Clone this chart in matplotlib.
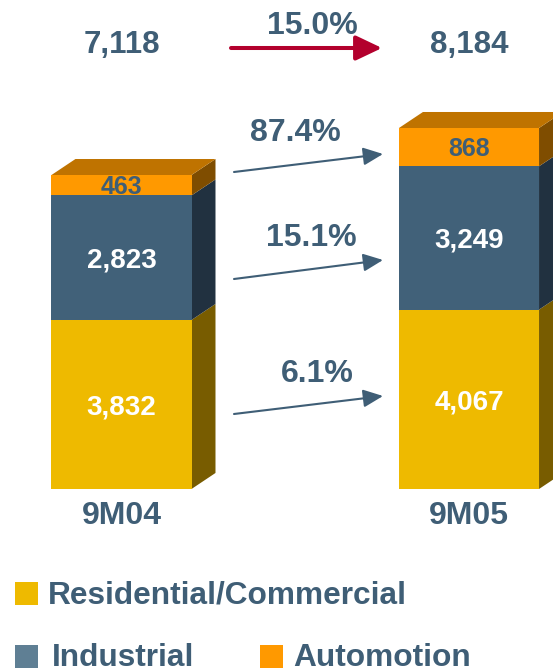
import matplotlib
matplotlib.use("Agg")
import matplotlib.pyplot as plt
from matplotlib.patches import Polygon, Rectangle, FancyArrowPatch, ArrowStyle
from matplotlib.transforms import blended_transform_factory

# Sales by segment, nine months 2004 vs 2005
periods = ["9M04", "9M05"]
segments = ["Residential/Commercial", "Industrial", "Automotion"]
residential = [3832, 4067]
industrial = [2823, 3249]
automotion = [463, 868]
total_growth = "15.0%"
segment_growth = ["6.1%", "15.1%", "87.4%"]  # residential, industrial, automotion

W, H = 553, 669
TEXT = "#3F5E76"
RED = "#B3002D"
front_colors = ["#EEBA00", "#416179", "#FF9900"]
side_colors = ["#785C00", "#213140", "#7F4D00"]
top_color = "#BF7300"
legend_colors = ["#EEBA00", "#5F7F94", "#FF9900"]

plt.rcParams["font.family"] = ["Liberation Sans", "DejaVu Sans"]
plt.rcParams["font.weight"] = "bold"

fig = plt.figure(figsize=(W / 100, H / 100), dpi=100)
ax = fig.add_axes([0, 0, 1, 1])
ax.axis("off")

# axis scaling: bar centres at x=0,1, value 0 sits on the floor line
ax.set_xlim(-0.3496, 1.2417)
ax.set_ylim(-4081, 11086)
bar_w = 0.403
dx, dy = 0.069, 363  # 3D depth offset


def fx(px):
    return px / W


def fy(py):
    return 1 - py / H


def centered_label(x, y, s, size, color):
    ax.annotate(s, (x, y), xytext=(0, -0.358 * size), textcoords="offset points",
                ha="center", va="baseline", fontsize=size, color=color,
                fontweight="bold", zorder=5)


stack = [residential, industrial, automotion]
xs = range(len(periods))
for i in xs:
    bottom = 0
    xl, xr = i - bar_w / 2, i + bar_w / 2
    for k, vals in enumerate(stack):
        v = vals[i]
        ax.bar(i, v, bottom=bottom, width=bar_w, color=front_colors[k],
               linewidth=0, zorder=3)
        y0, y1 = bottom, bottom + v
        ax.add_patch(Polygon([(xr, y0), (xr + dx, y0 + dy), (xr + dx, y1 + dy), (xr, y1)],
                             closed=True, facecolor=side_colors[k], linewidth=0, zorder=2))
        if k == 2:
            centered_label(i, (y0 + y1) / 2, f"{v:,}", 18, TEXT)
        else:
            centered_label(i, (y0 + y1) / 2, f"{v:,}", 20, "white")
        bottom = y1
    ax.add_patch(Polygon([(xl, bottom), (xl + dx, bottom + dy), (xr + dx, bottom + dy), (xr, bottom)],
                         closed=True, facecolor=top_color, linewidth=0, zorder=2))

# totals and period names above / below the bars
blend = blended_transform_factory(ax.transData, fig.transFigure)
totals = [r + n + a for r, n, a in zip(residential, industrial, automotion)]
for i in xs:
    ax.text(i, fy(53), f"{totals[i]:,}", transform=blend, ha="center", va="baseline",
            fontsize=22.5, color=TEXT)
    ax.text(i, fy(524), periods[i], transform=blend, ha="center", va="baseline",
            fontsize=23, color=TEXT)

# total growth arrow
fig.add_artist(FancyArrowPatch((fx(231), fy(48)), (fx(382), fy(48)), transform=fig.transFigure,
                               arrowstyle=ArrowStyle("-|>", head_length=16, head_width=7.6),
                               mutation_scale=1, linewidth=2.9, color=RED,
                               shrinkA=0, shrinkB=0))
fig.text(fx(312), fy(34), total_growth, ha="center", va="baseline", fontsize=23, color=TEXT)

# segment growth arrows
seg_arrows = [((234, 414), (383, 396), (317, 382)),
              ((234, 279), (383, 260), (311, 246)),
              ((234, 172), (383, 154), (295, 141))]
for (a, b, t), lbl in zip(seg_arrows, segment_growth):
    fig.add_artist(FancyArrowPatch((fx(a[0]), fy(a[1])), (fx(b[0]), fy(b[1])),
                                   transform=fig.transFigure,
                                   arrowstyle=ArrowStyle("-|>", head_length=12, head_width=5.4),
                                   mutation_scale=1, linewidth=1.5, color=TEXT,
                                   shrinkA=0, shrinkB=0))
    fig.text(fx(t[0]), fy(t[1]), lbl, ha="center", va="baseline", fontsize=23, color=TEXT)

# legend
legend_items = [(segments[0], legend_colors[0], 15, 48, 582, 603),
                (segments[1], legend_colors[1], 15, 52, 645, 666),
                (segments[2], legend_colors[2], 260, 293, 645, 666)]
for name, col, sx, tx, sy, base in legend_items:
    fig.add_artist(Rectangle((fx(sx), fy(sy + 23)), 23 / W, 23 / H, transform=fig.transFigure,
                             facecolor=col, linewidth=0))
    fig.text(fx(tx), fy(base), name, ha="left", va="baseline", fontsize=22.8, color=TEXT)

fig.savefig("out.png", dpi=100)
